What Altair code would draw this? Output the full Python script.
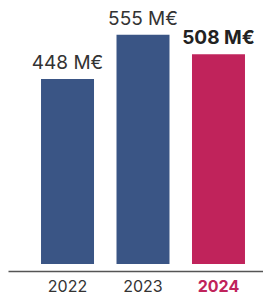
import altair as alt
import pandas as pd

years = ["2022", "2023", "2024"]
values = [448, 555, 508]
labels = ["448 M€", "555 M€", "508 M€"]
highlight = [False, False, True]

df = pd.DataFrame({"year": years, "value": values, "label": labels, "hl": highlight})

BLUE = "#3A5585"
RED = "#C0235B"
FONT = "Inter"

x = alt.X("year:N", sort=years, title=None,
          scale=alt.Scale(paddingInner=0.298, paddingOuter=0.338, align=0.647),
          axis=alt.Axis(labelAngle=0, ticks=False, domain=True, domainColor="#555555",
                        domainWidth=1.6, offset=7, labelPadding=7, labelFontSize=16,
                        labelFont=FONT,
                        labelColor=alt.condition("datum.value == '2024'", alt.value(RED), alt.value("#333333")),
                        labelFontWeight=alt.condition("datum.value == '2024'", alt.value("bold"), alt.value("normal")),
                        grid=False))
y = alt.Y("value:Q", title=None, scale=alt.Scale(domain=[0, 620], nice=False), axis=None)

bars = alt.Chart(df).mark_bar().encode(
    x=x, y=y,
    color=alt.Color("hl:N", scale=alt.Scale(domain=[False, True], range=[BLUE, RED]), legend=None),
)

text_normal = alt.Chart(df).transform_filter("!datum.hl").mark_text(
    dy=-10, baseline="alphabetic", fontSize=19, font=FONT, color="#333333", fontWeight="normal"
).encode(x=alt.X("year:N", sort=years), y=y, text="label:N")

text_bold = alt.Chart(df).transform_filter("datum.hl").mark_text(
    dy=-10, baseline="alphabetic", fontSize=19, font=FONT, color="#222222", fontWeight="bold"
).encode(x=alt.X("year:N", sort=years), y=y, text="label:N")

chart = (bars + text_normal + text_bold).properties(width=255, height=256, padding=0).configure_view(stroke=None)
chart.save("out.html", embed_options={"renderer": "svg", "actions": False})
